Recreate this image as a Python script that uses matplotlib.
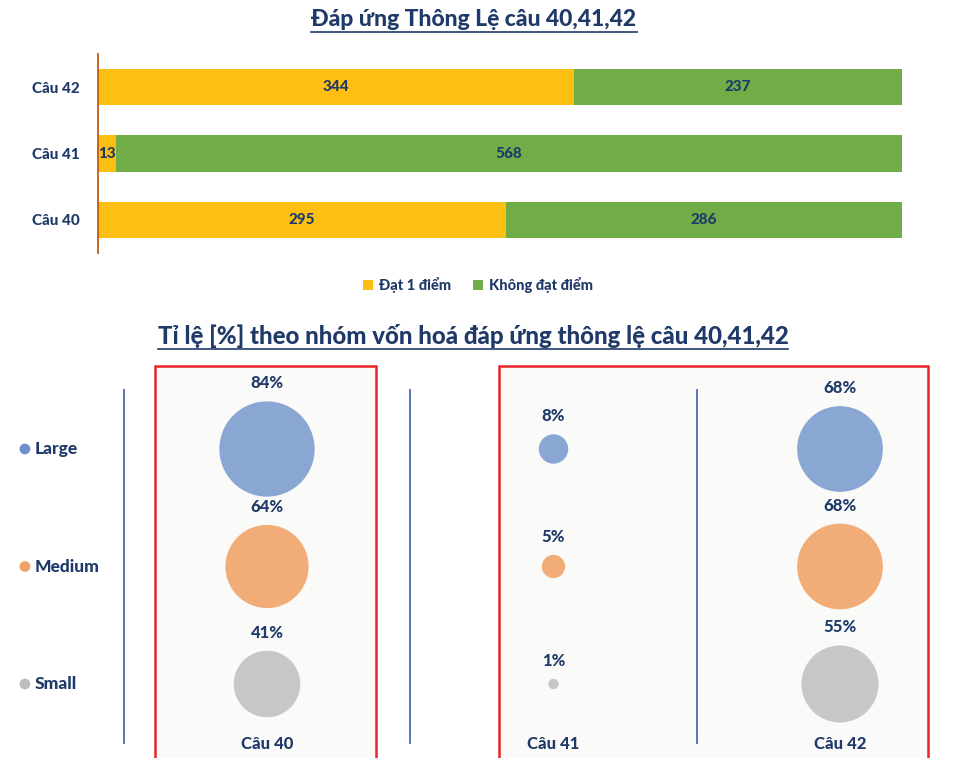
import numpy as np
import matplotlib
matplotlib.use("Agg")
import matplotlib.pyplot as plt
from matplotlib.patches import Rectangle
from matplotlib.lines import Line2D

# Số liệu biểu đồ cột chồng
questions = ["Câu 40", "Câu 41", "Câu 42"]
dat_1_diem = [295, 13, 344]
khong_dat = [286, 568, 237]

# Tỉ lệ (%) theo nhóm vốn hoá
groups = ["Small", "Medium", "Large"]
pct_cau40 = [41, 64, 84]
pct_cau41 = [1, 5, 8]
pct_cau42 = [55, 68, 68]

NAVY = "#1F3A68"
YELLOW = "#FCBF12"
GREEN = "#70AD47"
group_colors = ["#C9C7C5", "#F2AC78", "#8AA6D3"]
legend_dot_colors = ["#BDBDBD", "#F0A266", "#6F90CC"]

fonts = ["Lato", "Noto Sans", "DejaVu Sans"]

W, H = 977, 758
fig = plt.figure(figsize=(W / 100, H / 100), dpi=100)


def px_rect(x0, y0, x1, y1):
    return [x0 / W, 1 - y1 / H, (x1 - x0) / W, (y1 - y0) / H]


# ---- Biểu đồ cột ngang chồng ----
ax1 = fig.add_axes(px_rect(98, 54, 902, 253))
y = np.arange(len(questions))
total = np.array(dat_1_diem) + np.array(khong_dat)
b1 = ax1.barh(y, dat_1_diem, height=0.55, color=YELLOW, label="Đạt 1 điểm")
b2 = ax1.barh(y, khong_dat, left=dat_1_diem, height=0.55, color=GREEN, label="Không đạt điểm")
for bars in (b1, b2):
    ax1.bar_label(bars, label_type="center", color=NAVY, fontsize=11,
                  fontweight="black", family=fonts)
ax1.set_xlim(0, total.max())
ax1.set_ylim(-0.5, 2.5)
ax1.set_yticks(y, questions, fontsize=11, fontweight="black", color=NAVY, family=fonts)
ax1.tick_params(axis="y", length=0, pad=13)
ax1.set_xticks([])
for s in ["top", "right", "bottom"]:
    ax1.spines[s].set_visible(False)
ax1.spines["left"].set_color("#C55A11")
ax1.spines["left"].set_linewidth(1.3)

fig.legend(handles=[b1, b2], loc="center", bbox_to_anchor=(478 / W, 1 - 285 / H),
           ncol=2, frameon=False, handlelength=0.7, handleheight=0.7,
           handletextpad=0.4, columnspacing=1.5,
           prop={"family": fonts, "weight": "black", "size": 10.5}, labelcolor=NAVY)

t1 = fig.text(474 / W, 1 - 20 / H, "Đáp ứng Thông Lệ câu 40,41,42", ha="center", va="center",
              fontsize=16.5, fontweight="black", color=NAVY, family=fonts)

# ---- Biểu đồ bong bóng ----
ax2 = fig.add_axes([0, 0, 1, 1 - 360 / H])
ux, uy = 286.5, 117.5
ax2.set_xlim(-267 / ux, (W - 267) / ux)
ax2.set_ylim(-(H - 684) / uy, 2 + (449 - 360) / uy)
ax2.axis("off")

# Khung đỏ và nền
ax2.add_patch(Rectangle((-0.39, -1.0), 0.77, 3.706, facecolor="#FAFAF8",
                        edgecolor="#E8242A", linewidth=1.8, zorder=0))
ax2.add_patch(Rectangle((0.81, -1.0), 1.497, 3.706, facecolor="#FAFAF8",
                        edgecolor="#E8242A", linewidth=1.8, zorder=0))
for xs in (-0.5, 0.5, 1.5):
    ax2.plot([xs, xs], [-0.5, 2.5], color="#4A6AB0", linewidth=1.3, zorder=1)

rows = np.arange(len(groups))
for i, (name, vals) in enumerate(zip(questions, [pct_cau40, pct_cau41, pct_cau42])):
    vals = np.array(vals)
    ax2.scatter(np.full(len(vals), i), rows, s=vals * 56, c=group_colors, zorder=2, linewidths=0)
    for r, v in zip(rows, vals):
        rad = np.sqrt(v * 56) / 2
        ax2.annotate(f"{v}%", (i, r), xytext=(0, rad + 13), textcoords="offset points",
                     ha="center", va="center", fontsize=12, fontweight="black",
                     color=NAVY, family=fonts)
    ax2.text(i, -0.51, name, ha="center", va="center", fontsize=12,
             fontweight="black", color=NAVY, family=fonts)

# Chú thích nhóm bên trái
ax2.scatter(np.full(len(groups), -0.845), rows, s=60, c=legend_dot_colors, linewidths=0)
for r, g in zip(rows, groups):
    ax2.text(-0.81, r, g, ha="left", va="center", fontsize=12.5, fontweight="black",
             color=NAVY, family=fonts)

t2 = fig.text(473 / W, 1 - 336 / H, "Tỉ lệ [%] theo nhóm vốn hoá đáp ứng thông lệ câu 40,41,42",
              ha="center", va="center", fontsize=17.3, fontweight="black", color=NAVY,
              family=fonts)

# Gạch chân tiêu đề
fig.canvas.draw()
r = fig.canvas.get_renderer()
for t in (t1, t2):
    bb = t.get_window_extent(r)
    yl = bb.y0 - 1
    fig.add_artist(Line2D([bb.x0 / W, bb.x1 / W], [yl / H, yl / H], color=NAVY,
                          linewidth=1.2, transform=fig.transFigure))

fig.savefig("out.png", dpi=100)
